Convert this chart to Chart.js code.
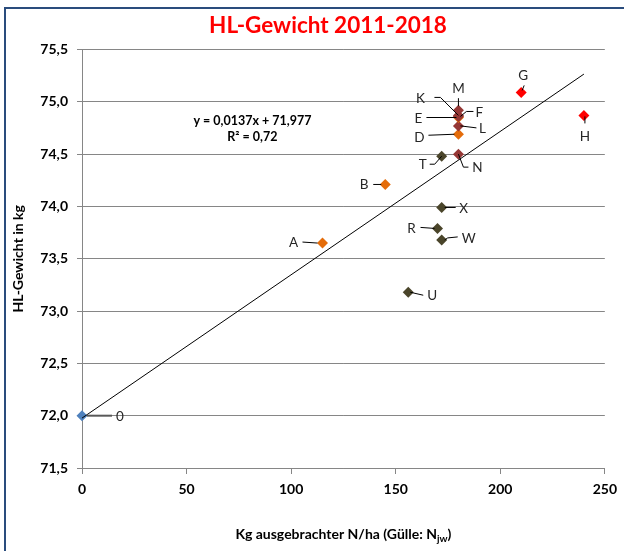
<!DOCTYPE html>
<html>
<head>
<meta charset="utf-8">
<script src="https://cdn.jsdelivr.net/npm/chart.js@4.4.1/dist/chart.umd.min.js"></script>
<style>
html, body { margin: 0; padding: 0; background: #fff; }
</style>
</head>
<body>
<canvas id="chart" width="624" height="551"></canvas>
<script>
// point data (N applied vs. HL weight)
const pointLabels = ['0', 'A', 'B', 'U', 'R', 'W', 'X', 'T', 'D', 'L', 'E', 'F', 'K', 'M', 'N', 'G', 'H'];
const nApplied    = [0, 115, 145, 156, 170, 172, 172, 172, 180, 180, 180, 180, 180, 180, 180, 210, 240];
const hlWeight    = [72.0, 73.65, 74.21, 73.18, 73.79, 73.68, 73.99, 74.48, 74.69, 74.77, 74.85, 74.86, 74.87, 74.92, 74.50, 75.09, 74.87];
const pointGroup  = ['base', 'orange', 'orange', 'olive', 'olive', 'olive', 'olive', 'olive', 'orange', 'brown', 'orange', 'brown', 'brown', 'brown', 'brown', 'red', 'red'];

// linear trend shown in the chart
const trendSlope = 0.0137;
const trendIntercept = 71.977;
const trendRangeX = [0, 240];
const rSquared = '0,72';

const xTicks = [0, 50, 100, 150, 200, 250];
const yTicks = [71.5, 72.0, 72.5, 73.0, 73.5, 74.0, 74.5, 75.0, 75.5];

const groupColors = {
    base: '#4F81BD',
    orange: '#E46C0A',
    olive: '#4A452A',
    brown: '#953735',
    red: '#FF0000'
};

// label text offset and leader line (px, relative to the point)
const labelLayout = {
    '0': {text: [38, 1], line: [[5, 0], [30, 0]], color: '#595959', width: 2},
    'A': {text: [-29, 0], line: [[-20, -1], [-5, 0]]},
    'B': {text: [-21, 0], line: [[-12, 0], [-4, 0]]},
    'D': {text: [-39, 3], line: [[-30, 1], [-4, 0]]},
    'E': {text: [-40, 1], line: [[-32, 0], [-2, 0]]},
    'F': {text: [21, -4], line: [[2, 0], [8, -5], [15, -5]]},
    'K': {text: [-38, -17], line: [[-24, -18], [-18, -18], [0, 0]]},
    'M': {text: [0, -22], line: [[0, -12], [0, -4]]},
    'L': {text: [24, 3], line: [[2, 0], [18, 2]]},
    'N': {text: [19, 14], line: [[0, 0], [5, 13], [10, 13]]},
    'G': {text: [2, -17], line: [[3, -7], [1, -2]]},
    'H': {text: [1, 21], line: [[1, 1], [1, 8]]},
    'T': {text: [-19, 8], line: [[-12, 8], [-7, 8], [0, 0]]},
    'X': {text: [22, 1], line: [[3, 0], [14, 0]]},
    'R': {text: [-26, 0], line: [[-17, -1], [-3, 0]]},
    'W': {text: [27, -1], line: [[3, 0], [6, -2], [16, -3]]},
    'U': {text: [24, 3], line: [[2, 0], [15, 3]]}
};

const FONT = 'Lato, "Open Sans", sans-serif';
const fmt = v => v.toFixed(1).replace('.', ',');

let points = nApplied.map((x, i) => ({x: x, y: hlWeight[i]}));
let colors = pointGroup.map(g => groupColors[g]);
let trend = trendRangeX.map(x => ({x: x, y: trendIntercept + trendSlope * x}));

const decorations = {
    id: 'decorations',
    beforeDraw(chart) {
        let ctx = chart.ctx;
        ctx.save();
        ctx.fillStyle = '#fff';
        ctx.fillRect(0, 0, chart.width, chart.height);
        ctx.strokeStyle = '#2A4C7D';
        ctx.lineWidth = 2;
        ctx.strokeRect(5, 8, 700, 700);
        ctx.restore();
    },
    afterDatasetsDraw(chart) {
        let ctx = chart.ctx;
        let meta = chart.getDatasetMeta(1);
        ctx.save();
        // point labels with leader lines
        ctx.font = '13.5px ' + FONT;
        ctx.fillStyle = '#262626';
        ctx.textAlign = 'center';
        ctx.textBaseline = 'middle';
        meta.data.forEach((el, i) => {
            let lay = labelLayout[pointLabels[i]];
            if (!lay) return;
            ctx.strokeStyle = lay.color || '#000';
            ctx.lineWidth = lay.width || 1;
            ctx.beginPath();
            lay.line.forEach((p, k) => {
                if (k === 0) ctx.moveTo(el.x + p[0], el.y + p[1]);
                else ctx.lineTo(el.x + p[0], el.y + p[1]);
            });
            ctx.stroke();
            ctx.fillText(pointLabels[i], el.x + lay.text[0], el.y + lay.text[1]);
        });

        // trend equation
        let xs = chart.scales.x, ys = chart.scales.y;
        let ex = xs.getPixelForValue(81.5), ey = ys.getPixelForValue(74.82);
        ctx.font = 'bold 12.5px ' + FONT;
        ctx.fillStyle = '#000';
        ctx.fillText('y = ' + String(trendSlope).replace('.', ',') + 'x + ' + String(trendIntercept).replace('.', ','), ex, ey);
        ctx.fillText('R² = ' + rSquared, ex, ey + 16);

        // title
        ctx.font = 'bold 22.5px ' + FONT;
        ctx.fillStyle = '#FF0000';
        ctx.fillText('HL-Gewicht 2011-2018', 328, 26);

        // x axis title with subscript
        let main = 'Kg ausgebrachter N/ha (Gülle: N';
        let sub = 'jw';
        ctx.font = 'bold 14px ' + FONT;
        let w1 = ctx.measureText(main).width;
        let w3 = ctx.measureText(')').width;
        ctx.font = 'bold 10px ' + FONT;
        let w2 = ctx.measureText(sub).width;
        let cx = (chart.chartArea.left + chart.chartArea.right) / 2;
        let sx = cx - (w1 + w2 + w3) / 2;
        ctx.textAlign = 'left';
        ctx.fillStyle = '#000';
        ctx.font = 'bold 14px ' + FONT;
        ctx.fillText(main, sx, 534);
        ctx.fillText(')', sx + w1 + w2, 534);
        ctx.font = 'bold 10px ' + FONT;
        ctx.fillText(sub, sx + w1, 539);
        ctx.restore();
    }
};

new Chart(document.getElementById('chart'), {
    type: 'scatter',
    data: {
        datasets: [{
            type: 'line',
            data: trend,
            borderColor: '#000',
            borderWidth: 1,
            pointRadius: 0,
            fill: false,
            clip: false
        }, {
            data: points,
            pointStyle: 'rectRot',
            pointRadius: 5.5,
            pointHoverRadius: 5.5,
            backgroundColor: colors,
            borderColor: colors,
            borderWidth: 0,
            clip: false
        }]
    },
    options: {
        responsive: false,
        animation: false,
        events: [],
        layout: {padding: {left: 0, right: 19, top: 49.5, bottom: 0}},
        plugins: {legend: {display: false}, tooltip: {enabled: false}},
        scales: {
            x: {
                type: 'linear',
                min: xTicks[0],
                max: xTicks[xTicks.length - 1],
                afterBuildTicks: s => { s.ticks = xTicks.map(v => ({value: v})); },
                afterFit: s => { s.height = 83; },
                grid: {drawOnChartArea: false, drawTicks: true, tickLength: 6, color: '#868686'},
                border: {color: '#868686'},
                ticks: {
                    padding: 7,
                    color: '#000',
                    font: {family: FONT, size: 14, weight: 'bold'}
                }
            },
            y: {
                type: 'linear',
                min: yTicks[0],
                max: yTicks[yTicks.length - 1],
                afterBuildTicks: s => { s.ticks = yTicks.map(v => ({value: v})); },
                afterFit: s => { s.width = 82; },
                grid: {color: '#868686', tickLength: 5},
                border: {color: '#868686'},
                ticks: {
                    padding: 9,
                    color: '#000',
                    callback: v => fmt(v),
                    font: {family: FONT, size: 14, weight: 'bold'}
                },
                title: {
                    display: true,
                    text: 'HL-Gewicht in kg',
                    color: '#000',
                    padding: {top: 10, bottom: 0},
                    font: {family: FONT, size: 14, weight: 'bold'}
                }
            }
        }
    },
    plugins: [decorations]
});
</script>
</body>
</html>
